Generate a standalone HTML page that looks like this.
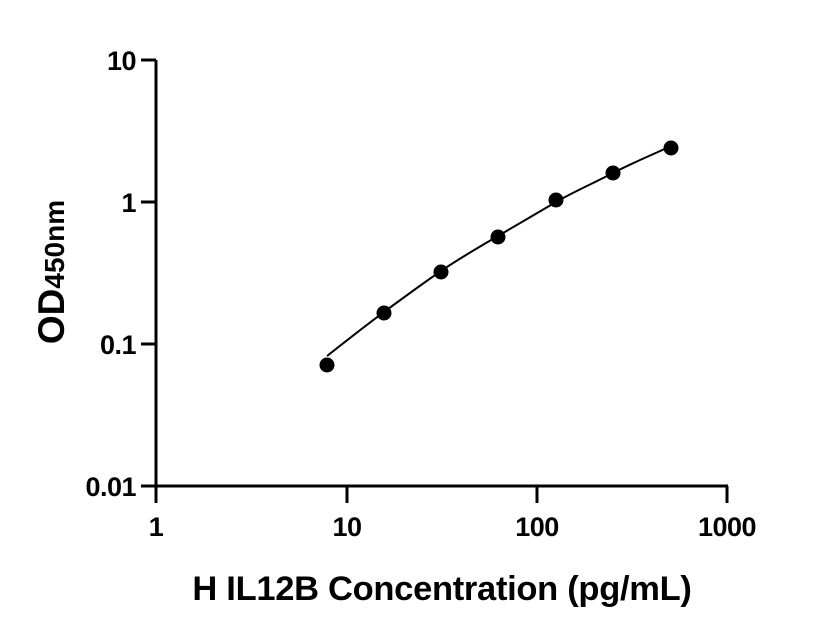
<!DOCTYPE html>
<html><head><style>body{margin:0;background:#fff}svg{display:block}</style></head><body>
<svg width="816" height="640" xmlns="http://www.w3.org/2000/svg" font-family="Liberation Sans, Arial, sans-serif" font-weight="bold">
<g stroke="#000" stroke-width="3" fill="none">
<line x1="156" y1="60" x2="156" y2="486"/>
<line x1="155" y1="486" x2="728" y2="486"/>
<line x1="141" y1="60" x2="156" y2="60"/>
<line x1="141" y1="202" x2="156" y2="202"/>
<line x1="141" y1="344" x2="156" y2="344"/>
<line x1="141" y1="486" x2="156" y2="486"/>
<line x1="156" y1="486" x2="156" y2="503"/>
<line x1="347" y1="486" x2="347" y2="503"/>
<line x1="537" y1="486" x2="537" y2="503"/>
<line x1="727" y1="486" x2="727" y2="503"/>
</g>
<g font-size="27" text-anchor="end" letter-spacing="-0.5">
<text x="136" y="70">10</text>
<text x="136" y="212">1</text>
<text x="136" y="354">0.1</text>
<text x="136" y="496">0.01</text>
</g>
<g font-size="27" text-anchor="middle" letter-spacing="-0.5">
<text x="156" y="536">1</text>
<text x="347" y="536">10</text>
<text x="537" y="536">100</text>
<text x="727" y="536">1000</text>
</g>
<text x="442" y="600" font-size="34.5" text-anchor="middle" letter-spacing="-0.3">H IL12B Concentration (pg/mL)</text>
<text transform="translate(64,272) rotate(-90)" text-anchor="middle" font-size="37">OD<tspan font-size="28">450nm</tspan></text>
<path d="M327,356 C346,341 365,326 384,312 S422,284 441,271 S479,247 498,236 S537,213 556,202 S594,183 613,173 S652,155 671,146" stroke="#000" stroke-width="2" fill="none"/>
<g fill="#000">
<ellipse cx="327" cy="365" rx="7.5" ry="7.5"/>
<ellipse cx="384" cy="313" rx="7.5" ry="7.5"/>
<ellipse cx="441" cy="272" rx="7.5" ry="7.5"/>
<ellipse cx="498" cy="237" rx="7.5" ry="7.5"/>
<ellipse cx="556" cy="200" rx="7.5" ry="7.5"/>
<ellipse cx="613" cy="173" rx="7.5" ry="7.5"/>
<ellipse cx="671" cy="148" rx="7.5" ry="7.5"/>
</g>
</svg>
</body></html>
